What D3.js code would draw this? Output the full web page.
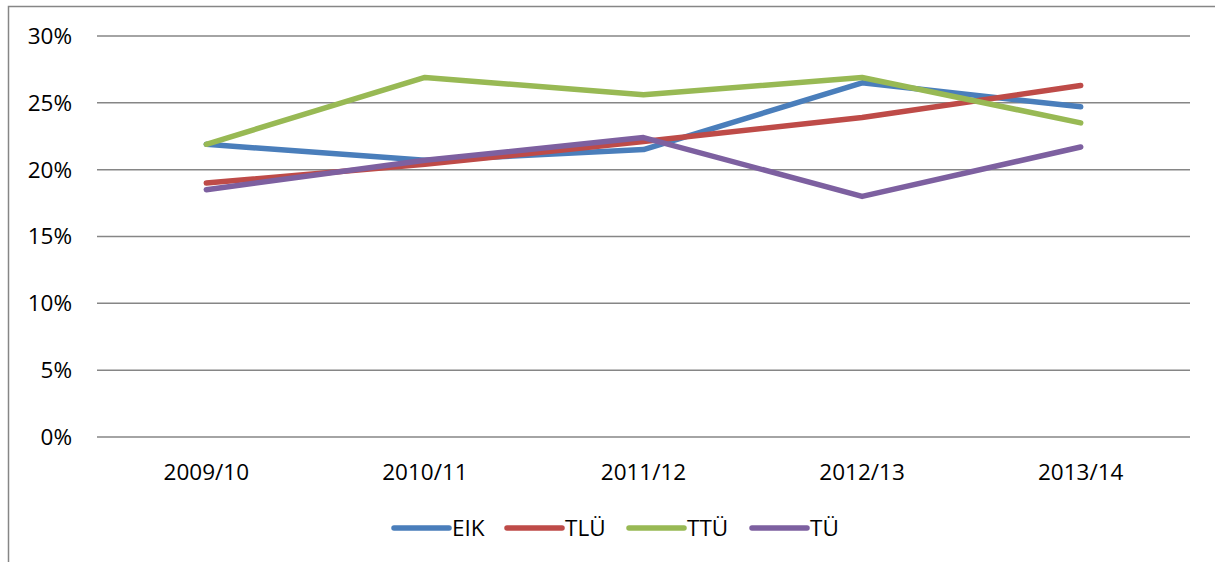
<!DOCTYPE html>
<html>
<head>
<meta charset="utf-8">
<script src="https://cdn.jsdelivr.net/npm/d3@7"></script>
<style>
  body { margin: 0; background: #fff; }
  text { font-family: "Open Sans", "Noto Sans", sans-serif; fill: #000; }
</style>
</head>
<body>
<svg id="chart" width="1215" height="562"></svg>
<script>
var years = ["2009/10", "2010/11", "2011/12", "2012/13", "2013/14"];
var seriesNames = ["EIK", "TLÜ", "TTÜ", "TÜ"];
var colors = ["#4a7ebb", "#be4b48", "#98b954", "#7d60a0"];
var eik = [0.219, 0.207, 0.215, 0.265, 0.247];
var tlu = [0.190, 0.204, 0.221, 0.239, 0.263];
var ttu = [0.219, 0.269, 0.256, 0.269, 0.235];
var tu  = [0.185, 0.207, 0.224, 0.180, 0.217];
var yTicks = [0, 0.05, 0.10, 0.15, 0.20, 0.25, 0.30];

var series = [eik, tlu, ttu, tu];

var svg = d3.select("#chart");

// outer frame (only left and top edges visible)
svg.append("path")
    .attr("d", "M8.5 562 L8.5 6.5 L1215 6.5")
    .attr("fill", "none")
    .attr("stroke", "#868686")
    .attr("stroke-width", 1.5);

var x = d3.scaleBand().domain(years).range([97, 1190]);
var y = d3.scaleLinear().domain([0, 0.30]).range([437, 36]);

// gridlines
svg.append("g")
    .selectAll("line")
    .data(yTicks)
    .enter()
    .append("line")
    .attr("x1", 97)
    .attr("x2", 1190)
    .attr("y1", function(d) { return y(d); })
    .attr("y2", function(d) { return y(d); })
    .attr("stroke", "#868686")
    .attr("stroke-width", 1.5);

// y labels
svg.append("g")
    .selectAll("text")
    .data(yTicks)
    .enter()
    .append("text")
    .attr("x", 72)
    .attr("y", function(d) { return y(d); })
    .attr("dy", "0.35em")
    .attr("text-anchor", "end")
    .attr("font-size", 22.5)
    .text(d3.format(".0%"));

// x labels
svg.append("g")
    .selectAll("text")
    .data(years)
    .enter()
    .append("text")
    .attr("x", function(d) { return x(d) + x.bandwidth() / 2; })
    .attr("y", 472)
    .attr("dy", "0.35em")
    .attr("text-anchor", "middle")
    .attr("font-size", 22.5)
    .text(function(d) { return d; });

var line = d3.line()
    .x(function(d, i) { return x(years[i]) + x.bandwidth() / 2; })
    .y(function(d) { return y(d); });

svg.append("g")
    .selectAll("path")
    .data(series)
    .enter()
    .append("path")
    .attr("d", line)
    .attr("fill", "none")
    .attr("stroke", function(d, i) { return colors[i]; })
    .attr("stroke-width", 5.5)
    .attr("stroke-linejoin", "round")
    .attr("stroke-linecap", "round");

// legend
var legendX = [394, 507, 629, 752];
var legend = svg.append("g")
    .selectAll("g")
    .data(seriesNames)
    .enter()
    .append("g")
    .attr("transform", function(d, i) { return "translate(" + legendX[i] + ",528)"; });
legend.append("line")
    .attr("x1", 0)
    .attr("x2", 55)
    .attr("stroke", function(d, i) { return colors[i]; })
    .attr("stroke-width", 5.5)
    .attr("stroke-linecap", "round");
legend.append("text")
    .attr("x", 58)
    .attr("dy", "0.35em")
    .attr("font-size", 22.5)
    .text(function(d) { return d; });
</script>
</body>
</html>
